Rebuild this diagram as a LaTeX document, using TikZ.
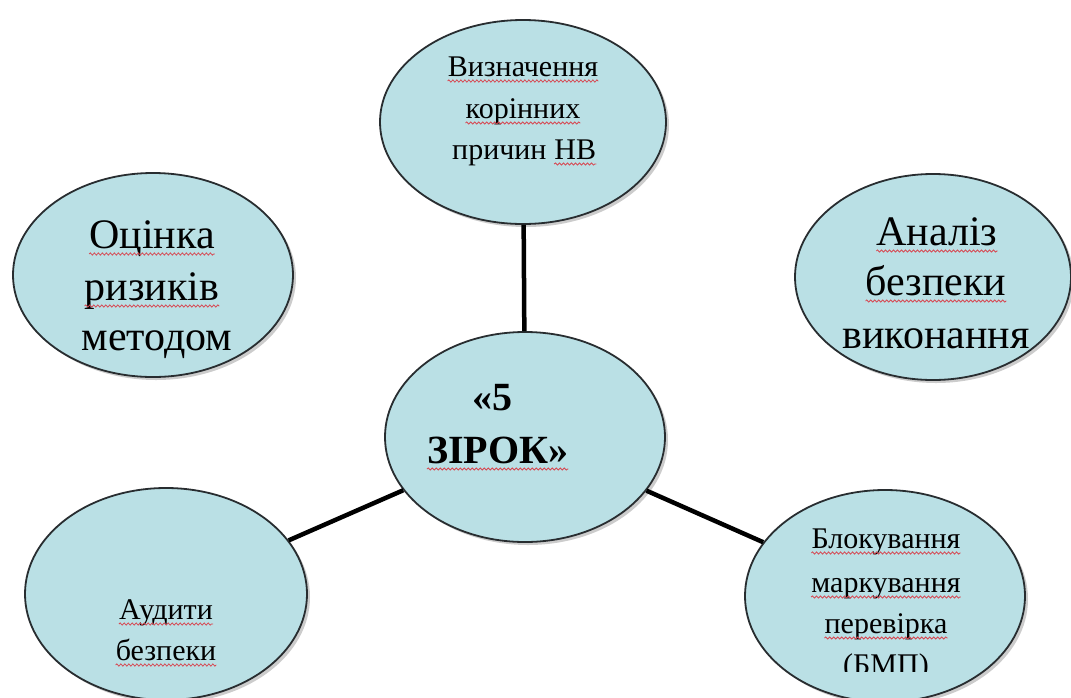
\documentclass[tikz,border=0pt]{standalone}
\usepackage{fontspec}
\setmainfont{Liberation Serif}
\usetikzlibrary{shapes.geometric,shadows,decorations.pathmorphing}
\definecolor{ellfill}{RGB}{186,224,229}
\definecolor{ellline}{RGB}{40,45,48}
\definecolor{wavered}{RGB}{215,70,80}
\begin{document}
\begin{tikzpicture}[x=1pt,y=-1pt,
  ell/.style={ellipse, draw=ellline, line width=1.8pt, fill=ellfill, inner sep=0pt,
    drop shadow={shadow xshift=3pt, shadow yshift=-3pt, opacity=0.4}},
  conn/.style={line width=4.5pt, black},
  lbl/.style={anchor=base, inner sep=0pt, text=black},
  sm/.style={lbl, font=\fontsize{30}{36}\selectfont},
  big/.style={lbl, font=\fontsize{42}{50}\selectfont},
  bold/.style={lbl, anchor=base west, font=\fontsize{40}{48}\selectfont\bfseries},
  wave/.style={wavered, line width=0.8pt, decorate,
    decoration={snake, amplitude=1.1pt, segment length=4pt}}]
\useasboundingbox (0,0) rectangle (1071,697);
\fill[white] (0,0) rectangle (1071,697);
\clip (0,0) rectangle (1071,697);

% ellipses
\node[ell, minimum width=286pt, minimum height=204pt] (top) at (523,122) {};
\node[ell, minimum width=280pt, minimum height=204pt] (left) at (153,275) {};
\node[ell, minimum width=276pt, minimum height=206pt] (right) at (933,277) {};
\node[ell, minimum width=280pt, minimum height=210pt] (center) at (525,437) {};
\node[ell, minimum width=282pt, minimum height=212pt] (bl) at (166,594) {};
\node[ell, minimum width=280pt, minimum height=212pt] (br) at (885,596) {};

% connectors
\draw[conn] (top) -- (center);
\draw[conn] (center) -- (bl);
\draw[conn] (center) -- (br);

% top texts
\node[sm] (t1) at (523,76) {Визначення};
\node[sm] (t2) at (523,118) {корінних};
\node[sm, anchor=base west] (t3) at (452,159) {причин};
\node[sm, anchor=base west] (t4) at ([xshift=7.5pt]t3.base east) {НВ};

% left texts
\node[big] (l1) at (152,248) {Оцінка};
\node[big] (l2) at (152,300) {ризиків};
\node[big] (l3) at (157,350) {методом};

% right texts
\node[big] (r1) at (937,245) {Аналіз};
\node[big] (r2) at (936,295) {безпеки};
\node[big] (r3) at (936,348) {виконання};

% center texts
\node[bold] (c1) at (472,410) {«5};
\node[bold] (c2) at (427,463) {ЗІРОК»};

% bottom-left texts
\node[sm] (b1) at (166,619) {Аудити};
\node[sm] (b2) at (166,660) {безпеки};

% bottom-right texts
\node[sm] (d1) at (886,548) {Блокування};
\node[sm] (d2) at (886,592) {маркування};
\node[sm] (d3) at (886,633) {перевірка};
\begin{scope}
  \clip (700,0) rectangle (1071,671);
  \node[sm] (d4) at (886,674) {(БМП)};
\end{scope}

% spell-check wavy underlines
\foreach \w in {t1,t2,t4,b1,b2,d1,d2,d3}
  \draw[wave] ([yshift=-5pt]\w.base west) -- ([yshift=-5pt]\w.base east);
\foreach \w in {l1,l2,r1,r2,c2}
  \draw[wave] ([yshift=-6pt]\w.base west) -- ([yshift=-6pt]\w.base east);
\end{tikzpicture}
\end{document}
